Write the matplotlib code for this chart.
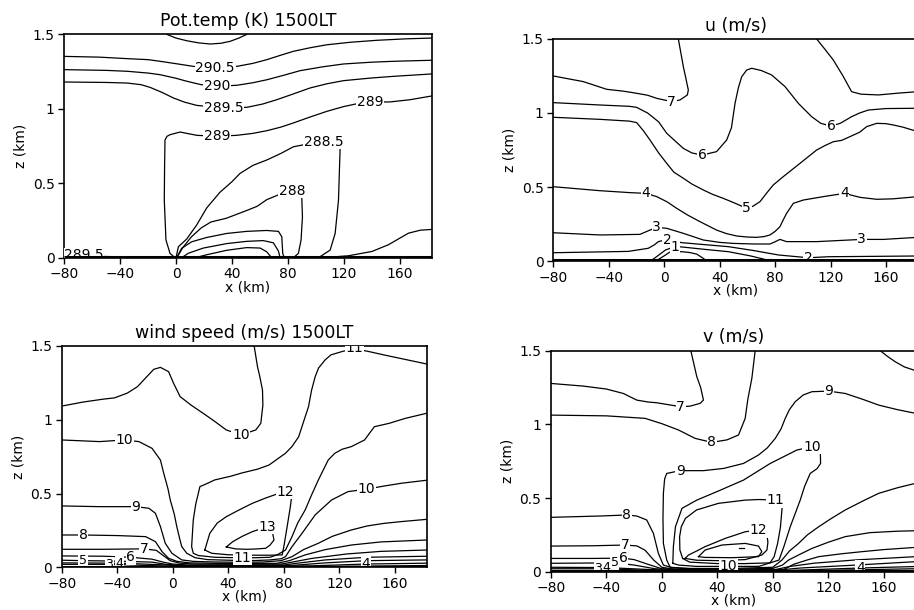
import matplotlib
matplotlib.use("Agg")
import matplotlib.pyplot as plt

plt.rcParams['font.family'] = ['DejaVu Sans']

x_ticks = [-80, -40, 0, 40, 80, 120, 160]
z_ticks = [0, 0.5, 1, 1.5]
z_tick_labels = ["0", "0.5", "1", "1.5"]
x_min, x_max = -80, 183

titles = ["Pot.temp (K) 1500LT", "u (m/s)", "wind speed (m/s) 1500LT", "v (m/s)"]

# contour lines: (label, indices of labelled points, x in km, z in km)
theta_lines = [
    ("291", [], [-6.6, 0, 7.7, 16, 24.4, 32, 38.7, 45, 50.7],
     [1.5, 1.475, 1.457, 1.443, 1.435, 1.44, 1.453, 1.475, 1.5]),
    ("290.5", [7], [-80, -55, -35.3, -20, -11.4, 0, 12.4, 28, 43.5, 55, 65, 75, 84, 96, 108, 125, 143.8, 165, 183],
     [1.352, 1.347, 1.337, 1.33, 1.319, 1.303, 1.285, 1.274, 1.285, 1.305, 1.33, 1.36, 1.386, 1.41, 1.43, 1.447, 1.46, 1.47, 1.475]),
    ("290", [8], [-80, -50, -35, -20, -11.4, 0, 7.7, 18, 29.2, 43.5, 55, 65, 77, 88.8, 105, 119.9, 140, 155.7, 183],
     [1.263, 1.258, 1.252, 1.24, 1.229, 1.205, 1.185, 1.162, 1.151, 1.158, 1.175, 1.195, 1.225, 1.256, 1.282, 1.301, 1.313, 1.319, 1.326]),
    ("289.5", [9], [-80, -50, -35, -25, -18.6, -10, -1.9, 6, 14.8, 33.9, 50.7, 62, 72.1, 84, 96, 108, 119.9, 140, 155.7, 183],
     [1.18, 1.177, 1.173, 1.162, 1.144, 1.11, 1.073, 1.045, 1.023, 1.005, 1.01, 1.032, 1.061, 1.1, 1.14, 1.168, 1.189, 1.207, 1.218, 1.234]),
    ("289", [10, 20], [-0.7, -4.3, -7.2, -8.4, -8.2, -7.9, -6.5, -4.3, 2.9, 14.8, 29.2, 43.5, 55, 65, 75, 84, 96, 108, 120, 130, 139, 153, 167.5, 183],
     [0, 0.029, 0.119, 0.387, 0.6, 0.79, 0.815, 0.826, 0.844, 0.822, 0.815, 0.822, 0.835, 0.853, 0.877, 0.905, 0.945, 0.983, 1.015, 1.035, 1.046, 1.046, 1.061, 1.086]),
    ("288.5", [13], [0, 1.7, 7.6, 14.8, 22, 31.5, 40, 45.8, 55, 64.9, 75, 84, 95, 105.5, 115, 117.5, 117, 116.3, 113.9, 110.3, 103.1, 96],
     [0, 0.074, 0.125, 0.22, 0.335, 0.44, 0.51, 0.566, 0.62, 0.656, 0.7, 0.745, 0.765, 0.779, 0.77, 0.745, 0.6, 0.387, 0.163, 0.051, 0.007, 0]),
    ("288", [10], [0.5, 5, 11, 18, 25, 36, 50, 58, 65, 74, 83, 90, 90.5, 89.5, 87.6, 84],
     [0, 0.07, 0.14, 0.2, 0.24, 0.265, 0.315, 0.345, 0.39, 0.425, 0.45, 0.41, 0.275, 0.119, 0.029, 0]),
    ("287.5", [], [0.5, 4, 11.2, 22, 36.3, 50.6, 64.9, 73.3, 75.7, 76.4, 77.4],
     [0, 0.063, 0.107, 0.136, 0.163, 0.177, 0.183, 0.177, 0.141, 0.029, 0]),
    ("287", [], [4, 8.8, 19.6, 36.3, 50.6, 62.5, 69.7, 73.3, 74.5],
     [0, 0.03, 0.065, 0.095, 0.11, 0.115, 0.1, 0.045, 0]),
    ("286.5", [], [13.6, 22, 36.3, 50.6, 60.2, 64.9, 68.5],
     [0, 0.02, 0.05, 0.068, 0.065, 0.04, 0]),
    ("289", [], [95, 110, 123.4, 140.2, 152, 166.4, 175, 183],
     [0, 0.004, 0.013, 0.042, 0.087, 0.165, 0.185, 0.19]),
    ("289.5", [1], [-80, -66, -50, -20, 0],
     [0.012, 0.015, 0.008, 0.004, 0.003]),
]

u_lines = [
    ("7", [7], [-80, -58.4, -41.5, -30, -22.3, -12, -5.4, 5.4, 11.4, 16.7, 17.4, 15.5, 13.8, 10.2],
     [1.25, 1.212, 1.16, 1.148, 1.137, 1.12, 1.099, 1.077, 1.088, 1.122, 1.155, 1.24, 1.313, 1.5]),
    ("7", [], [110, 116, 122, 129, 135.2, 142, 154.5, 170, 183],
     [1.5, 1.43, 1.358, 1.25, 1.144, 1.127, 1.122, 1.135, 1.144]),
    ("6", [10, 25], [-80, -46.3, -25, -19.9, -12, -4, 1.8, 8, 13.8, 20, 27.5, 37.8, 45.1, 48.5, 51.1, 53.5,
                     55.9, 59.5, 63.1, 70, 77.5, 87.2, 96.8, 106.4, 113, 120.3, 127, 135.2, 141, 147.3, 160, 183],
     [1.07, 1.054, 1.045, 1.038, 1.0, 0.94, 0.863, 0.81, 0.761, 0.73, 0.716, 0.739, 0.818, 0.9, 1.065, 1.17,
      1.245, 1.29, 1.302, 1.287, 1.257, 1.178, 1.065, 0.975, 0.93, 0.912, 0.93, 0.975, 1.0, 1.02, 1.03, 1.032]),
    ("5", [15], [-80, -46.3, -25, -19.9, -15, -10.3, -4, 1.8, 7, 13.8, 20, 28.2, 35, 42.7, 50, 59.5, 64,
                 69.1, 74, 78.7, 85.9, 98, 110, 116, 122, 128, 134, 141, 146.1, 153.3, 160, 165.3, 172, 183],
     [0.971, 0.957, 0.945, 0.935, 0.88, 0.818, 0.73, 0.66, 0.6, 0.559, 0.52, 0.48, 0.45, 0.423, 0.395, 0.356, 0.37,
      0.401, 0.46, 0.514, 0.57, 0.66, 0.75, 0.78, 0.806, 0.815, 0.84, 0.87, 0.908, 0.93, 0.928, 0.919, 0.905, 0.874]),
    ("4", [3, 23], [-80, -46.3, -24.7, -13.1, -5.4, 2, 9, 17, 25.8, 37.8, 45, 52.3, 60, 66.7, 72, 76.3,
                    80, 83.5, 86, 88.3, 93.2, 100.4, 114.8, 130, 141.3, 153.3, 165, 183],
     [0.502, 0.475, 0.462, 0.457, 0.435, 0.4, 0.356, 0.31, 0.266, 0.209, 0.185, 0.169, 0.162, 0.16, 0.165, 0.176,
      0.2, 0.232, 0.28, 0.322, 0.39, 0.412, 0.435, 0.457, 0.43, 0.417, 0.42, 0.435]),
    ("3", [4, 16], [-80, -46.3, -17.5, -10.3, -5.4, 1.8, 13.8, 28.2, 40, 49.9, 65, 76.3, 80, 83.5, 88.3, 110, 142.5, 158.1, 183],
     [0.191, 0.176, 0.18, 0.209, 0.227, 0.221, 0.187, 0.142, 0.126, 0.119, 0.115, 0.115, 0.13, 0.146, 0.131, 0.131, 0.146, 0.146, 0.16]),
    ("2", [5, 11], [-80, -25.9, -11.5, -7, -4.2, 2, 12.6, 30, 46.3, 65, 82.3, 104, 118.4, 183],
     [0.056, 0.065, 0.086, 0.11, 0.131, 0.145, 0.124, 0.11, 0.097, 0.07, 0.041, 0.022, 0.029, 0.034]),
    ("1", [4], [-12, -8, -4, 1, 8, 12.6, 30, 46.3, 62, 77.5],
     [0, 0.012, 0.04, 0.075, 0.098, 0.095, 0.078, 0.063, 0.035, 0]),
    ("", [], [-8, -4, 0, 4, 12.6, 18, 23.4, 28.2, 30.6],
     [0, 0.012, 0.035, 0.06, 0.063, 0.058, 0.047, 0.018, 0]),
]

speed_lines = [
    ("10", [16], [-80, -64.8, -50, -42.3, -33, -25.6, -18, -13.8, -9, -3.1, 0.5, 5.2, 13, 21.8, 30, 38.5,
                  49.1, 59.8, 63.4, 64.9, 64.6, 62.5, 61, 58.6],
     [1.093, 1.12, 1.14, 1.148, 1.18, 1.224, 1.3, 1.342, 1.355, 1.326, 1.247, 1.157, 1.1, 1.044, 0.99, 0.931,
      0.897, 0.931, 0.976, 1.1, 1.202, 1.3, 1.36, 1.5]),
    ("10", [2, 27], [-80, -52.9, -35.1, -24.5, -15, -9, -6.6, -3.5, -1.9, 1, 2.8, 5, 6.4, 10, 16, 25, 40, 50,
                     60, 70, 78, 81.2, 85.9, 93.1, 102.6, 114.4, 126.3, 139.3, 152.4, 165, 180.2, 183],
     [0.863, 0.852, 0.863, 0.852, 0.806, 0.727, 0.637, 0.53, 0.456, 0.36, 0.276, 0.19, 0.14, 0.095, 0.065, 0.052,
      0.048, 0.046, 0.046, 0.05, 0.058, 0.072, 0.14, 0.23, 0.355, 0.456, 0.513, 0.529, 0.551, 0.57, 0.587, 0.59]),
    ("11", [5, 32], [183, 167, 152.4, 141, 136, 131, 121.5, 114, 109.7, 105, 102.6, 100, 97.8, 94, 90.7, 86, 81.2,
                     69.3, 61, 50, 42, 30.1, 24, 19.5, 16.5, 14.7, 13.5, 14.7, 18.3, 30.1, 40, 45, 50.3, 60, 70,
                     75.3, 81.2, 85.9, 90, 95.4, 100, 104.9, 112, 116.8, 122, 128.7, 138.2, 145.3, 156, 167.8, 183],
     [1.378, 1.41, 1.439, 1.463, 1.472, 1.485, 1.461, 1.44, 1.405, 1.35, 1.292, 1.2, 1.089, 0.98, 0.885, 0.82, 0.773,
      0.693, 0.665, 0.64, 0.618, 0.592, 0.565, 0.547, 0.43, 0.321, 0.14, 0.095, 0.08, 0.068, 0.066, 0.065, 0.065, 0.065, 0.068,
      0.085, 0.117, 0.208, 0.3, 0.389, 0.49, 0.592, 0.727, 0.773, 0.8, 0.818, 0.863, 0.953, 0.976, 1.01, 1.044]),
    ("12", [8], [23, 26.6, 32, 38.5, 48, 57.4, 67, 76.4, 81.2, 85.9, 84.7, 82.4, 80, 78.8, 70, 55, 40, 28, 23],
     [0.117, 0.23, 0.3, 0.343, 0.39, 0.434, 0.47, 0.501, 0.513, 0.501, 0.411, 0.276, 0.14, 0.084, 0.082, 0.082, 0.085, 0.095, 0.117]),
    ("13", [5], [38.5, 43.2, 50, 57.4, 64.6, 68.1, 71.7, 72.9, 70, 66.9, 60, 52.7, 45, 38.5],
     [0.138, 0.174, 0.21, 0.242, 0.264, 0.276, 0.242, 0.185, 0.15, 0.129, 0.124, 0.122, 0.125, 0.138]),
    ("9", [2], [-80, -52.9, -26.8, -17.3, -12.6, -9, -5.5, -0.7, 6.4, 15, 30, 50, 65, 78, 85.9, 94.2, 104.9,
                115, 128.7, 140, 152.4, 165, 183],
     [0.416, 0.411, 0.411, 0.4, 0.366, 0.276, 0.163, 0.095, 0.05, 0.04, 0.036, 0.034, 0.036, 0.045, 0.072, 0.12, 0.163,
      0.21, 0.253, 0.28, 0.298, 0.31, 0.325]),
    ("8", [1], [-80, -64.8, -40, -19.7, -12.6, -7.8, -3.1, 3, 12, 30, 50, 75, 84, 95.4, 110, 128.7, 150, 183],
     [0.219, 0.219, 0.215, 0.208, 0.174, 0.106, 0.061, 0.04, 0.03, 0.027, 0.026, 0.027, 0.045, 0.084, 0.12, 0.151, 0.172, 0.185]),
    ("7", [2], [-80, -50, -20.9, -12, -7, -2, 5, 15, 50, 78, 86, 100, 125, 150, 183],
     [0.122, 0.122, 0.125, 0.115, 0.08, 0.045, 0.028, 0.022, 0.02, 0.022, 0.035, 0.06, 0.09, 0.108, 0.117]),
    ("6", [2], [-80, -50, -30.4, -15, -7, 0, 10, 50, 80, 90, 110, 140, 183],
     [0.077, 0.075, 0.068, 0.055, 0.035, 0.022, 0.016, 0.014, 0.016, 0.028, 0.05, 0.068, 0.075]),
    ("5", [1], [-80, -64.8, -40, -15, -5, 5, 50, 85, 110, 140, 183],
     [0.048, 0.045, 0.042, 0.035, 0.02, 0.012, 0.01, 0.012, 0.03, 0.045, 0.05]),
    ("4", [1, 6], [-80, -38.5, -10, 10, 60, 100, 139.3, 183],
     [0.03, 0.028, 0.018, 0.008, 0.007, 0.01, 0.022, 0.028]),
    ("3", [1], [-80, -46, -10, 10, 100, 183],
     [0.02, 0.02, 0.01, 0.005, 0.005, 0.012]),
]

v_lines = [
    ("7", [7], [-80, -56.6, -40, -27.8, -18.1, -10, -3.7, 13.6, 20.4, 27.6, 30, 28, 25.2, 20.9],
     [1.278, 1.26, 1.24, 1.21, 1.165, 1.152, 1.147, 1.12, 1.124, 1.143, 1.165, 1.25, 1.324, 1.5]),
    ("8", [6], [-80, -40, -12.1, 0, 12, 24, 36, 47, 55.3, 60.1, 62, 64.9, 67.3],
     [1.063, 1.058, 1.041, 1.005, 0.962, 0.905, 0.878, 0.895, 0.928, 1.041, 1.17, 1.312, 1.5]),
    ("", [], [157.6, 163, 168.4, 175, 183],
     [1.5, 1.46, 1.425, 1.39, 1.365]),
    ("9", [21, 34], [183, 170, 156.4, 145, 132.3, 122, 113.1, 105, 98.6, 92, 86.6, 80, 50, 20, 6, 3.5, 1.1, 0.8, 1.1, 2,
                     3.5, 13.2, 30, 44.5, 58.9, 69.7, 76, 81.8, 86, 89, 92, 96.2, 102, 108.3, 120.3, 132.3, 145, 156.4, 170, 183],
     [0.6, 0.57, 0.532, 0.48, 0.419, 0.36, 0.305, 0.25, 0.192, 0.14, 0.079, 0.03, 0.022, 0.022, 0.03, 0.079, 0.192, 0.36, 0.532, 0.63,
      0.667, 0.686, 0.686, 0.701, 0.735, 0.792, 0.84, 0.905, 0.97, 1.041, 1.1, 1.154, 1.2, 1.222, 1.226, 1.21, 1.17, 1.131, 1.1, 1.075]),
    ("10", [9, 20], [7.9, 8.3, 9.8, 14.5, 25.2, 39.6, 58.9, 78.2, 97.4, 108.3, 114.3, 114.5, 112, 107, 103, 99.8,
                     92.6, 88, 84.5, 70, 48.1, 25, 12, 7.9],
     [0.057, 0.17, 0.305, 0.43, 0.486, 0.543, 0.622, 0.735, 0.826, 0.848, 0.814, 0.735, 0.7, 0.667, 0.58, 0.486,
      0.305, 0.17, 0.079, 0.036, 0.036, 0.036, 0.045, 0.057]),
    ("11", [9], [15, 13, 12.8, 14, 17, 25, 40.8, 60.1, 70, 81.8, 87.1, 86.6, 85.5, 83.5, 81, 78, 60, 40, 20, 15],
     [0.09, 0.147, 0.238, 0.305, 0.362, 0.419, 0.464, 0.486, 0.49, 0.486, 0.498, 0.419, 0.3, 0.192, 0.102, 0.06, 0.055, 0.055, 0.065, 0.09]),
    ("12", [6], [16.8, 19.2, 25, 31.2, 45.7, 60.1, 69.7, 75.8, 76.5, 75.8, 72.1, 60, 40, 25, 16.8],
     [0.09, 0.113, 0.14, 0.17, 0.226, 0.271, 0.283, 0.249, 0.2, 0.147, 0.113, 0.082, 0.075, 0.078, 0.09]),
    ("", [], [26.4, 31.2, 43.3, 60.1, 69.7, 72.1, 69.7, 50.5, 31.2, 26.4],
     [0.102, 0.147, 0.181, 0.192, 0.174, 0.136, 0.102, 0.095, 0.097, 0.102]),
    ("", [], [56, 59.5], [0.158, 0.158]),
    ("8", [2], [-80, -44.6, -25.4, -18.1, -10.9, -6.1, -2.5, 1.1, 8, 20, 50, 80, 87, 91.4, 100, 108.3, 120, 132.3, 150, 170, 183],
     [0.369, 0.378, 0.385, 0.378, 0.351, 0.26, 0.124, 0.045, 0.025, 0.02, 0.018, 0.022, 0.045, 0.079, 0.12, 0.158, 0.2, 0.238, 0.265, 0.275, 0.278]),
    ("7", [2], [-80, -50, -26.6, -18, -12, -6, 0, 10, 50, 88, 95, 105, 113.1, 130, 144.4, 160, 183],
     [0.174, 0.176, 0.181, 0.175, 0.145, 0.08, 0.03, 0.015, 0.012, 0.015, 0.05, 0.08, 0.102, 0.122, 0.136, 0.15, 0.165]),
    ("6", [2], [-80, -50, -28, -20, -10, 0, 20, 80, 92, 110, 140, 183],
     [0.09, 0.09, 0.092, 0.082, 0.05, 0.02, 0.01, 0.01, 0.035, 0.058, 0.08, 0.102]),
    ("5", [1], [-80, -34, -20, -5, 20, 80, 100, 140, 183],
     [0.057, 0.06, 0.045, 0.02, 0.008, 0.008, 0.025, 0.045, 0.068]),
    ("4", [1, 5], [-80, -40, -10, 20, 90, 143.2, 183],
     [0.03, 0.028, 0.015, 0.006, 0.008, 0.025, 0.035]),
    ("3", [1], [-80, -46, -10, 20, 100, 183],
     [0.02, 0.02, 0.01, 0.004, 0.006, 0.02]),
]

panel_lines = [theta_lines, u_lines, speed_lines, v_lines]

# axes boxes in figure fractions (left, bottom, width, height)
boxes = [
    (0.0703, 0.5775, 0.402, 0.3662),
    (0.6054, 0.5721, 0.3988, 0.364),
    (0.0678, 0.070, 0.399, 0.3628),
    (0.6028, 0.0628, 0.3989, 0.3622),
]

fig = plt.figure(figsize=(9.14, 6.10), dpi=100)

for box, title, lines in zip(boxes, titles, panel_lines):
    ax = fig.add_axes(box)
    for text, at, xs, zs in lines:
        ax.plot(xs, zs, color="black", lw=0.9, zorder=2, solid_joinstyle="round")
        for i in at:
            # the bunched labels low on the left are printed a little smaller
            crowded = xs[i] < -25 and 0.015 < zs[i] < 0.065
            ax.text(xs[i], zs[i], text, ha="center", va="center", fontsize=9 if crowded else 10,
                    zorder=3, clip_on=True,
                    bbox=dict(boxstyle="square,pad=0.05", fc="white", ec="none"))
    # crowded contours right at the ground merge into one heavy line
    ax.plot([x_min, x_max], [0.004, 0.004], color="black", lw=2.2, zorder=5, solid_capstyle="butt")

    ax.set_xlim(x_min, x_max)
    ax.set_ylim(0, 1.5)
    ax.set_xticks(x_ticks)
    ax.set_yticks(z_ticks)
    ax.set_yticklabels(z_tick_labels)
    ax.tick_params(direction="out", length=4, width=1, labelsize=10, pad=3)
    for s in ax.spines.values():
        s.set_linewidth(1.2)
    ax.set_title(title, fontsize=12.5, pad=6)
    ax.set_xlabel("x (km)", fontsize=10)
    ax.set_ylabel("z (km)", fontsize=10)
    ax.xaxis.set_label_coords(0.5, -0.1)
    ax.yaxis.set_label_coords(-0.1, 0.5)

fig.savefig("out.png", dpi=100)
